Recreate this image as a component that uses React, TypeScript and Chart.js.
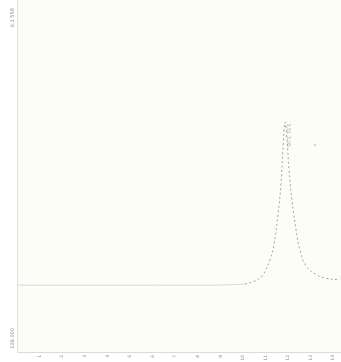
import React, { useEffect, useRef } from "react";
import { Chart, registerables } from "chart.js";

Chart.register(...registerables);

const baseX = [0, 3, 6, 9, 10.09];
const baseY = [19.0, 19.0, 19.0, 19.0, 19.3];
const peakX = [10.09, 10.53, 10.88, 11.19, 11.37, 11.55, 11.68, 11.77, 11.86, 11.95, 12.04, 12.17, 12.35, 12.52, 12.79, 13.19, 13.63, 14.29];
const peakY = [19.3, 20.2, 21.9, 26.1, 30.4, 38.9, 47.4, 57.4, 65.3, 60.2, 51.7, 43.2, 34.7, 29.0, 24.4, 22.2, 21.0, 20.5];
const markX = [13.19];
const markY = [58.8];
const xTicks = [1, 2, 3, 4, 5, 6, 7, 8, 9, 10, 11, 12, 13, 14];
const yTickValues = [6.8, 97.7];
const yTopLabel = "6.1 558";
const yBottomLabel = "109.000";
const peakLabel = "3.51 3.05";

export default function App() {
  const ref = useRef<HTMLCanvasElement>(null);
  useEffect(() => {
    const bgPlugin = {
      id: "bg",
      beforeDraw(chart: any) {
        const { ctx, chartArea } = chart;
        ctx.save();
        ctx.fillStyle = "#fdfdf8";
        ctx.fillRect(chartArea.left, chartArea.top, chartArea.right - chartArea.left, chartArea.bottom - chartArea.top);
        ctx.restore();
      },
      afterDatasetsDraw(chart: any) {
        const { ctx, scales } = chart;
        const px = scales.x.getPixelForValue(peakX[8]);
        const py = scales.y.getPixelForValue(peakY[8]);
        ctx.save();
        ctx.translate(px + 3, py + 1);
        ctx.rotate(Math.PI / 2);
        ctx.fillStyle = "#a8a8a8";
        ctx.font = "5px 'DejaVu Sans'";
        ctx.textBaseline = "middle";
        ctx.fillText(peakLabel, 0, 0);
        ctx.restore();
      },
    };
    const chart = new Chart(ref.current!, {
      type: "scatter",
      data: {
        datasets: [
          {
            data: baseX.map((x, i) => ({ x, y: baseY[i] })),
            showLine: true,
            borderColor: "#d9d9d9",
            borderWidth: 1,
            pointRadius: 0,
          },
          {
            data: peakX.map((x, i) => ({ x, y: peakY[i] })),
            showLine: true,
            borderColor: "#8a8a8a",
            borderWidth: 0.8,
            borderDash: [2, 2.5],
            tension: 0.4,
            pointRadius: 0,
          },
          {
            data: markX.map((x, i) => ({ x, y: markY[i] })),
            pointRadius: 0.6,
            backgroundColor: "#c4c4c4",
            borderColor: "#c4c4c4",
          },
        ],
      },
      options: {
        animation: false,
        responsive: false,
        layout: { padding: 0, autoPadding: false },
        plugins: { legend: { display: false }, tooltip: { enabled: false } },
        scales: {
          x: {
            type: "linear",
            min: 0,
            max: 14.34,
            afterBuildTicks(scale: any) {
              scale.ticks = xTicks.map((v) => ({ value: v }));
            },
            afterFit(scale: any) {
              scale.height = 10;
              scale.paddingLeft = 0;
              scale.paddingRight = 0;
            },
            grid: { display: false, drawTicks: true, tickLength: 2, tickColor: "#bbb" },
            border: { color: "#dadada" },
            ticks: {
              font: { size: 4.5, family: "DejaVu Sans" },
              color: "#8f8f8f",
              minRotation: 90,
              maxRotation: 90,
              padding: 1,
            },
          },
          y: {
            min: 0,
            max: 100,
            afterBuildTicks(scale: any) {
              scale.ticks = yTickValues.map((v) => ({ value: v }));
            },
            afterFit(scale: any) {
              scale.width = 17;
              scale.paddingTop = 0;
              scale.paddingBottom = 0;
            },
            grid: { display: false, drawTicks: false },
            border: { color: "#e0e0e0" },
            ticks: {
              font: { size: 5, family: "DejaVu Sans" },
              color: "#8a8a8a",
              minRotation: 90,
              maxRotation: 90,
              padding: 4,
              callback: (v: any) => (v < 50 ? yBottomLabel : yTopLabel),
            },
          },
        },
      },
      plugins: [bgPlugin],
    });
    return () => chart.destroy();
  }, []);
  return (
    <div style={{ position: "fixed", left: 0, top: 0, width: 341, height: 362, background: "#fff" }}>
      <canvas ref={ref} width={341} height={362} style={{ width: 341, height: 362 }} />
    </div>
  );
}
